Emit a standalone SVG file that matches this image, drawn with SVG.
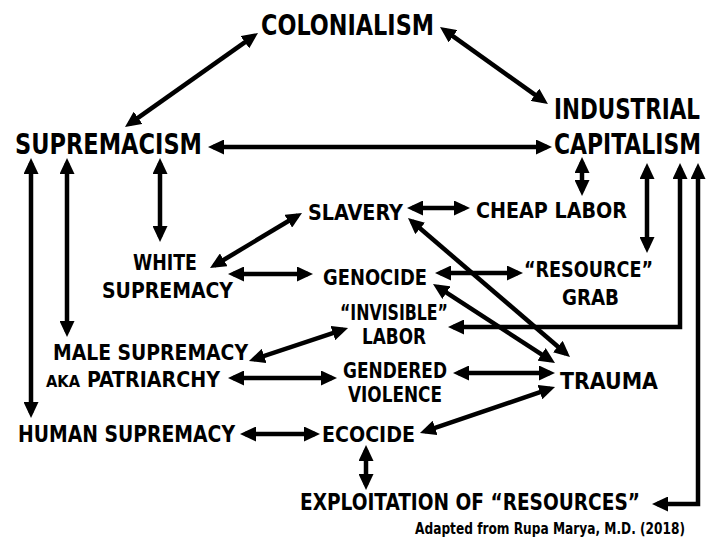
<svg xmlns="http://www.w3.org/2000/svg" width="709" height="542" viewBox="0 0 709 542">
<style>
text{font-family:"DejaVu Sans Condensed","Liberation Sans",sans-serif;font-weight:bold;fill:#000}
.l1{font-size:29px}
.l2{font-size:22px}
.l3{font-size:23.5px}
.sm{font-size:15px}
.cr{font-size:15px;font-weight:bold}
.e{text-anchor:end}
.c line,.c polyline{stroke:#000;stroke-width:4.5;fill:none;marker-start:url(#ah);marker-end:url(#ah)}
</style>
<defs>
<marker id="ah" markerUnits="userSpaceOnUse" markerWidth="16" markerHeight="15" refX="11" refY="7.5" orient="auto-start-reverse" viewBox="0 0 16 15">
<path d="M0,0 L16,7.5 L0,15 z" fill="#000"/>
</marker>
</defs>
<rect width="709" height="542" fill="#fff"/>
<g class="c" id="connectors">
<line x1="129.1" y1="124.1" x2="253.9" y2="35.9"/>
<line x1="444.1" y1="29.9" x2="543.9" y2="101.1"/>
<line x1="213" y1="147" x2="547" y2="147"/>
<line x1="31" y1="163" x2="31" y2="413"/>
<line x1="67" y1="163" x2="67" y2="332"/>
<line x1="160" y1="163" x2="160" y2="237"/>
<line x1="582" y1="162" x2="582" y2="191"/>
<line x1="647" y1="168" x2="647" y2="248"/>
<polyline points="680,168 680,327 453,327"/>
<polyline points="698,168 698,504 657,504"/>
<line x1="412" y1="208" x2="465" y2="208"/>
<line x1="214.3" y1="265.5" x2="297.7" y2="215.5"/>
<line x1="233" y1="274" x2="308" y2="274"/>
<line x1="440" y1="273" x2="518" y2="273"/>
<line x1="411.8" y1="221.3" x2="566.2" y2="353.7"/>
<line x1="437.2" y1="286.7" x2="550.8" y2="360.3"/>
<line x1="253.7" y1="359.4" x2="343.3" y2="329.6"/>
<line x1="233" y1="378" x2="332" y2="378"/>
<line x1="458" y1="373" x2="550" y2="373"/>
<line x1="424.7" y1="431.4" x2="550.3" y2="388.6"/>
<line x1="245" y1="434" x2="315" y2="434"/>
<line x1="366" y1="450" x2="366" y2="485"/>
</g>
<g id="colonialism"><text class="l1" x="261" y="35" textLength="173" lengthAdjust="spacingAndGlyphs">COLONIALISM</text></g>
<g id="industrial-capitalism">
<text class="l1 e" transform="translate(700,119) scale(0.8,1)" x="0" y="0" textLength="182.5" lengthAdjust="spacingAndGlyphs">INDUSTRIAL</text>
<text class="l1 e" transform="translate(701,154) scale(0.8,1)" x="0" y="0" textLength="183.75" lengthAdjust="spacingAndGlyphs">CAPITALISM</text>
</g>
<g id="supremacism"><text class="l1" x="15" y="154" textLength="187" lengthAdjust="spacingAndGlyphs">SUPREMACISM</text></g>
<g id="slavery"><text class="l2" x="308" y="220" textLength="95" lengthAdjust="spacingAndGlyphs">SLAVERY</text></g>
<g id="cheap-labor"><text class="l2" x="476" y="218" textLength="151" lengthAdjust="spacingAndGlyphs">CHEAP LABOR</text></g>
<g id="white-supremacy">
<text class="l2" x="133" y="270" textLength="64" lengthAdjust="spacingAndGlyphs">WHITE</text>
<text class="l2" x="102" y="298" textLength="131" lengthAdjust="spacingAndGlyphs">SUPREMACY</text>
</g>
<g id="genocide"><text class="l2" x="323" y="285" textLength="104" lengthAdjust="spacingAndGlyphs">GENOCIDE</text></g>
<g id="resource-grab">
<text class="l2" x="524" y="277" textLength="129" lengthAdjust="spacingAndGlyphs">“RESOURCE”</text>
<text class="l2" x="562" y="305" textLength="57" lengthAdjust="spacingAndGlyphs">GRAB</text>
</g>
<g id="invisible-labor">
<text class="l2" x="340" y="320" textLength="108" lengthAdjust="spacingAndGlyphs">“INVISIBLE”</text>
<text class="l2" x="362" y="344" textLength="64" lengthAdjust="spacingAndGlyphs">LABOR</text>
</g>
<g id="male-supremacy">
<text class="l2" x="53" y="360" textLength="195" lengthAdjust="spacingAndGlyphs">MALE SUPREMACY</text>
<text class="sm" x="46" y="387" textLength="34" lengthAdjust="spacingAndGlyphs">AKA</text>
<text class="l2" x="87" y="387" textLength="133" lengthAdjust="spacingAndGlyphs">PATRIARCHY</text>
</g>
<g id="gendered-violence">
<text class="l2" x="343" y="378" textLength="104" lengthAdjust="spacingAndGlyphs">GENDERED</text>
<text class="l2" x="348" y="402" textLength="94" lengthAdjust="spacingAndGlyphs">VIOLENCE</text>
</g>
<g id="trauma"><text class="l3" x="560" y="389" textLength="98" lengthAdjust="spacingAndGlyphs">TRAUMA</text></g>
<g id="human-supremacy"><text class="l3" x="18" y="442" textLength="217" lengthAdjust="spacingAndGlyphs">HUMAN SUPREMACY</text></g>
<g id="ecocide"><text class="l2" x="322" y="442" textLength="93" lengthAdjust="spacingAndGlyphs">ECOCIDE</text></g>
<g id="exploitation"><text class="l3" x="300" y="510" textLength="340" lengthAdjust="spacingAndGlyphs">EXPLOITATION OF “RESOURCES”</text></g>
<g id="credit"><text class="cr e" transform="translate(685,534) scale(0.85,1)" x="0" y="0" textLength="317.6" lengthAdjust="spacingAndGlyphs">Adapted from Rupa Marya, M.D. (2018)</text></g>
</svg>
